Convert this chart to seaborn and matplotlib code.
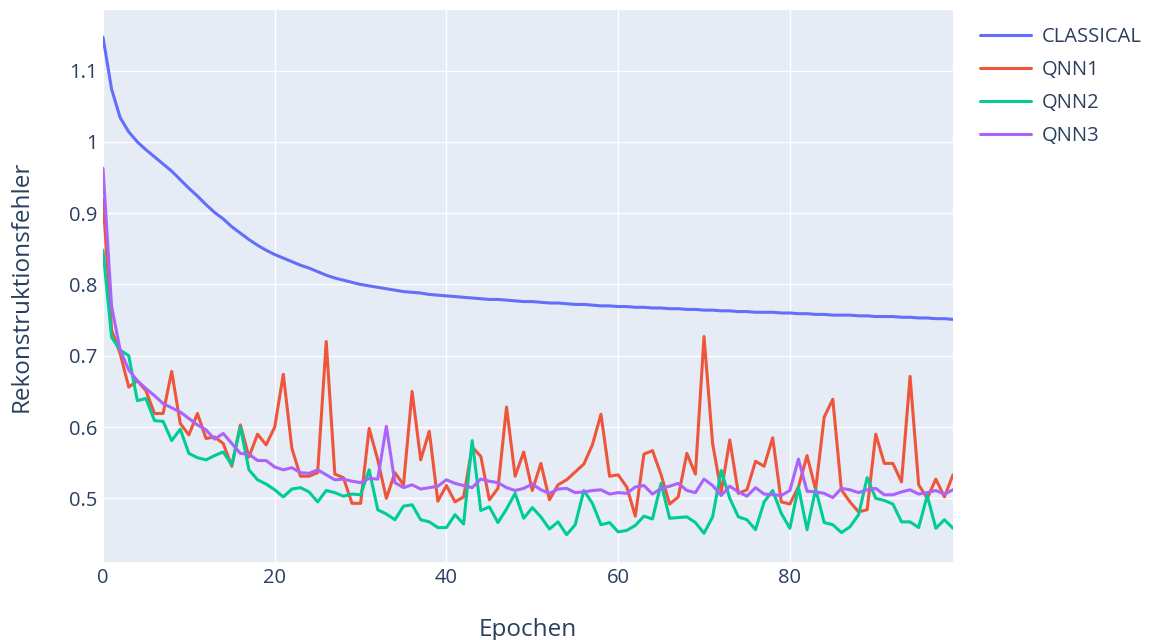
import numpy as np
import pandas as pd
import matplotlib
matplotlib.use("Agg")
import matplotlib.pyplot as plt
import seaborn as sns

epochs = list(range(100))

classical = [1.147, 1.074, 1.034, 1.014, 1.000, 0.989, 0.979, 0.969, 0.959, 0.947,
             0.935, 0.924, 0.912, 0.901, 0.892, 0.881, 0.872, 0.863, 0.855, 0.848,
             0.842, 0.837, 0.832, 0.827, 0.823, 0.818, 0.813, 0.809, 0.806, 0.803,
             0.800, 0.798, 0.796, 0.794, 0.792, 0.790, 0.789, 0.788, 0.786, 0.785,
             0.784, 0.783, 0.782, 0.781, 0.780, 0.779, 0.779, 0.778, 0.777, 0.776,
             0.776, 0.775, 0.774, 0.774, 0.773, 0.772, 0.772, 0.771, 0.770, 0.770,
             0.769, 0.769, 0.768, 0.768, 0.767, 0.767, 0.766, 0.766, 0.765, 0.765,
             0.764, 0.764, 0.763, 0.763, 0.762, 0.762, 0.761, 0.761, 0.761, 0.760,
             0.760, 0.759, 0.759, 0.758, 0.758, 0.757, 0.757, 0.757, 0.756, 0.756,
             0.755, 0.755, 0.755, 0.754, 0.754, 0.753, 0.753, 0.752, 0.752, 0.751]

qnn1 = [0.920, 0.736, 0.703, 0.656, 0.665, 0.651, 0.619, 0.619, 0.678, 0.605,
        0.589, 0.619, 0.584, 0.586, 0.577, 0.545, 0.603, 0.558, 0.590, 0.575,
        0.600, 0.674, 0.570, 0.531, 0.531, 0.536, 0.720, 0.534, 0.529, 0.493,
        0.493, 0.598, 0.554, 0.500, 0.536, 0.519, 0.650, 0.554, 0.594, 0.496,
        0.518, 0.495, 0.502, 0.572, 0.559, 0.498, 0.514, 0.628, 0.531, 0.565,
        0.511, 0.549, 0.498, 0.519, 0.526, 0.537, 0.548, 0.575, 0.618, 0.531,
        0.533, 0.516, 0.475, 0.562, 0.567, 0.533, 0.492, 0.502, 0.563, 0.534,
        0.727, 0.577, 0.509, 0.582, 0.507, 0.512, 0.552, 0.545, 0.585, 0.495,
        0.492, 0.516, 0.560, 0.512, 0.614, 0.639, 0.512, 0.495, 0.481, 0.484,
        0.590, 0.549, 0.549, 0.523, 0.671, 0.519, 0.500, 0.527, 0.502, 0.533]

qnn2 = [0.848, 0.726, 0.708, 0.700, 0.637, 0.640, 0.609, 0.608, 0.581, 0.597,
        0.563, 0.557, 0.554, 0.560, 0.565, 0.547, 0.600, 0.540, 0.526, 0.520,
        0.512, 0.502, 0.513, 0.515, 0.509, 0.495, 0.511, 0.508, 0.503, 0.506,
        0.505, 0.540, 0.484, 0.478, 0.470, 0.489, 0.491, 0.470, 0.467, 0.459,
        0.459, 0.477, 0.464, 0.581, 0.483, 0.488, 0.466, 0.485, 0.507, 0.472,
        0.487, 0.474, 0.457, 0.467, 0.449, 0.463, 0.511, 0.493, 0.463, 0.466,
        0.453, 0.455, 0.462, 0.475, 0.471, 0.521, 0.472, 0.473, 0.474, 0.466,
        0.451, 0.474, 0.539, 0.500, 0.474, 0.470, 0.456, 0.495, 0.511, 0.479,
        0.458, 0.516, 0.456, 0.513, 0.466, 0.463, 0.452, 0.460, 0.477, 0.529,
        0.500, 0.497, 0.492, 0.467, 0.467, 0.459, 0.504, 0.458, 0.470, 0.458]

qnn3 = [0.963, 0.769, 0.708, 0.680, 0.665, 0.654, 0.644, 0.633, 0.627, 0.621,
        0.612, 0.603, 0.596, 0.583, 0.591, 0.577, 0.563, 0.562, 0.553, 0.553,
        0.544, 0.540, 0.543, 0.536, 0.535, 0.540, 0.533, 0.526, 0.527, 0.524,
        0.522, 0.528, 0.527, 0.601, 0.522, 0.515, 0.519, 0.513, 0.515, 0.517,
        0.526, 0.521, 0.518, 0.515, 0.527, 0.524, 0.522, 0.515, 0.511, 0.514,
        0.520, 0.512, 0.507, 0.513, 0.514, 0.508, 0.509, 0.511, 0.512, 0.506,
        0.508, 0.507, 0.516, 0.518, 0.506, 0.514, 0.517, 0.521, 0.511, 0.508,
        0.527, 0.518, 0.504, 0.517, 0.509, 0.503, 0.515, 0.506, 0.505, 0.504,
        0.511, 0.555, 0.510, 0.509, 0.507, 0.501, 0.514, 0.512, 0.508, 0.512,
        0.514, 0.505, 0.505, 0.509, 0.512, 0.506, 0.508, 0.511, 0.506, 0.512]

series_names = ["CLASSICAL", "QNN1", "QNN2", "QNN3"]
colors = ["#636EFA", "#EF553B", "#00CC96", "#AB63FA"]

df = pd.DataFrame({
    "Epochen": epochs * 4,
    "Rekonstruktionsfehler": classical + qnn1 + qnn2 + qnn3,
    "Modell": sum([[n] * 100 for n in series_names], []),
})

sns.set_theme(style="darkgrid")
plt.rcParams["font.family"] = ["Open Sans", "DejaVu Sans"]

fig = plt.figure(figsize=(11.5, 6.4), dpi=100)
ax = fig.add_axes([103 / 1150, 1 - 562 / 640, 850 / 1150, 552 / 640])
ax.set_facecolor("#E5ECF6")

sns.lineplot(data=df, x="Epochen", y="Rekonstruktionsfehler", hue="Modell",
             palette=dict(zip(series_names, colors)), linewidth=2.2, ax=ax)

ax.set_xlim(0, 99)
ax.set_ylim(0.4107, 1.185)
ax.set_xticks([0, 20, 40, 60, 80])
ax.set_yticks([0.5, 0.6, 0.7, 0.8, 0.9, 1.0, 1.1])
ax.set_yticklabels(["0.5", "0.6", "0.7", "0.8", "0.9", "1", "1.1"])
ax.grid(True, color="white", linewidth=1.0)
for s in ax.spines.values():
    s.set_visible(False)
ax.tick_params(axis="both", length=0, labelsize=14.5, colors="#2a3f5f")
ax.tick_params(axis="y", pad=4)
ax.tick_params(axis="x", pad=4)
ax.set_xlabel("Epochen", fontsize=17.5, color="#2a3f5f", labelpad=22)
ax.set_ylabel("Rekonstruktionsfehler", fontsize=17.5, color="#2a3f5f", labelpad=25)

leg = ax.legend(loc="upper left", bbox_to_anchor=(980 / 1150, 1 - 27 / 640),
                bbox_transform=fig.transFigure, frameon=False, fontsize=14.5,
                handlelength=2.55, labelspacing=0.64, handletextpad=0.5,
                borderpad=0, borderaxespad=0)
for t in leg.get_texts():
    t.set_color("#2a3f5f")

fig.savefig("out.png", dpi=100)
